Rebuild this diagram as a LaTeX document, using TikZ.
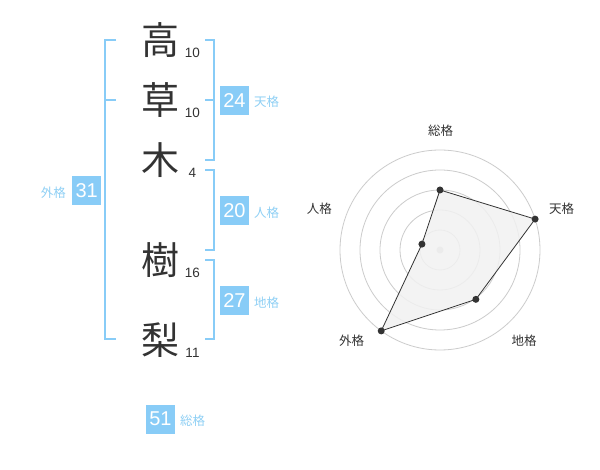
\documentclass[tikz,border=0pt]{standalone}
\usepackage{fontspec}
\setmainfont{Liberation Sans}
\newfontfamily\cjk{Noto Sans CJK JP}
\definecolor{boxblue}{HTML}{88CCF7}
\definecolor{lblblue}{HTML}{8FD0F5}
\definecolor{ink}{HTML}{333333}
\definecolor{ring}{HTML}{CCCCCC}
\definecolor{polyfill}{HTML}{F1F1F1}
\tikzset{
  kanji/.style={inner sep=0pt, text=ink, font=\cjk\fontsize{38}{38}\selectfont},
  strk/.style={inner sep=0pt, text=ink, font=\fontsize{13.5}{14}\selectfont},
  valbox/.style={fill=boxblue, text=white, minimum width=29pt, minimum height=29pt, inner sep=0pt, font=\fontsize{20}{20}\selectfont},
  kaku/.style={inner sep=0pt, text=lblblue, font=\cjk\fontsize{12.5}{13}\selectfont},
  brk/.style={draw=boxblue, line width=2pt},
  rlabel/.style={inner sep=0pt, text=ink, font=\cjk\fontsize{12.5}{13}\selectfont},
  dot/.style={circle, fill=ink, inner sep=0pt, minimum size=7pt},
}
\begin{document}
\begin{tikzpicture}[x=1pt,y=-1pt]
\useasboundingbox[fill=white] (0,0) rectangle (600,470);
% kanji
\node[kanji] (k1) at (160,40) {高};
\node[kanji] (k2) at (160,100) {草};
\node[kanji] (k3) at (160,160) {木};
\node[kanji] (k4) at (160,260) {樹};
\node[kanji] (k5) at (160,340) {梨};
% stroke counts
\node[strk] (s1) at (192.5,52.5) {10};
\node[strk] (s2) at (192.5,112.5) {10};
\node[strk] (s3) at (192.5,173) {4};
\node[strk] (s4) at (192.5,272.5) {16};
\node[strk] (s5) at (192.5,352.5) {11};
% brackets
\coordinate (g1) at (116,40);
\coordinate (g2) at (105,40);
\coordinate (g3) at (105,339);
\coordinate (g4) at (116,339);
\coordinate (g5) at (105,100);
\coordinate (g6) at (116,100);
\draw[brk] (g1) -- (g2) -- (g3) -- (g4);
\draw[brk] (g5) -- (g6);
\coordinate (t1) at (205,40);
\coordinate (t2) at (214,40);
\coordinate (t3) at (214,160);
\coordinate (t4) at (205,160);
\coordinate (t5) at (205,100);
\coordinate (t6) at (214,100);
\draw[brk] (t1) -- (t2) -- (t3) -- (t4);
\draw[brk] (t5) -- (t6);
\coordinate (j1) at (205,170);
\coordinate (j2) at (214,170);
\coordinate (j3) at (214,250);
\coordinate (j4) at (205,250);
\draw[brk] (j1) -- (j2) -- (j3) -- (j4);
\coordinate (c1) at (205,260);
\coordinate (c2) at (214,260);
\coordinate (c3) at (214,339);
\coordinate (c4) at (205,339);
\draw[brk] (c1) -- (c2) -- (c3) -- (c4);
% value boxes
\node[valbox] (b24) at (234.5,100.5) {24};
\node[kaku, anchor=west] (l24) at (254,102) {天格};
\node[valbox] (b20) at (234.5,211) {20};
\node[kaku, anchor=west] (l20) at (254,213) {人格};
\node[valbox] (b27) at (234.5,300.5) {27};
\node[kaku, anchor=west] (l27) at (254,302.5) {地格};
\node[valbox] (b31) at (86.7,190.3) {31};
\node[kaku, anchor=east] (l31) at (66,192.5) {外格};
\node[valbox] (b51) at (160.5,419) {51};
\node[kaku, anchor=west] (l51) at (180,421) {総格};
% radar
\coordinate (o) at (440,250);
\foreach \r in {20,40,60,80,100} \draw[ring, line width=0.8pt] (o) circle (\r);
\fill[ring] (o) circle (3.5);
\coordinate (p1) at (440,190);
\path (o) ++(-18:100) coordinate (p2);
\path (o) ++(54:61) coordinate (p3);
\path (o) ++(126:100) coordinate (p4);
\path (o) ++(198:19) coordinate (p5);
\filldraw[fill=polyfill, fill opacity=0.85, draw=ink, line width=0.8pt] (p1) -- (p2) -- (p3) -- (p4) -- (p5) -- cycle;
\foreach \p in {p1,p2,p3,p4,p5} \node[dot] at (\p) {};
\node[rlabel] (r1) at (440.7,130.7) {総格};
\node[rlabel] (r2) at (561.7,208.7) {天格};
\node[rlabel] (r3) at (524,340.7) {地格};
\node[rlabel] (r4) at (351.7,340.7) {外格};
\node[rlabel] (r5) at (319.3,208.7) {人格};
\end{tikzpicture}
\end{document}
